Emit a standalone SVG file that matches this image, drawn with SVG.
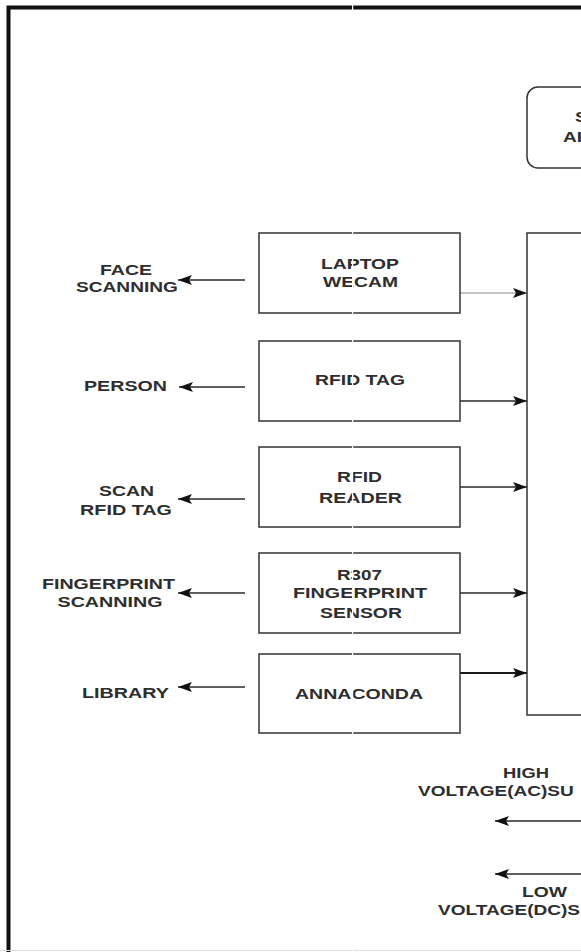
<svg xmlns="http://www.w3.org/2000/svg" width="581" height="952" viewBox="0 0 581 952">
<defs>
<style>
.t{font-family:"Liberation Sans",Arial,sans-serif;font-size:15px;font-weight:bold;fill:#2e2e2e;text-anchor:middle}
.ts{font-family:"Liberation Sans",Arial,sans-serif;font-size:15px;font-weight:bold;fill:#2e2e2e;text-anchor:start}
.box{fill:#fff;stroke:#333;stroke-width:1.5}
.c{stroke:#2a2a2a;stroke-width:1.3;fill:none}
</style>
<marker id="ah" markerUnits="userSpaceOnUse" markerWidth="14" markerHeight="10" refX="14" refY="5" orient="auto">
<path d="M0,0 L14,5 L0,10 L3,5 z" fill="#111"/>
</marker>
</defs>
<rect x="0" y="0" width="581" height="952" fill="#fff"/>
<rect x="8.5" y="7.5" width="640" height="1000" fill="none" stroke="#111" stroke-width="4"/>
<line x1="0" y1="950.5" x2="581" y2="950.5" stroke="#ddd" stroke-width="1"/>

<g id="connectors">
<line class="c" x1="245" y1="280" x2="178" y2="280" marker-end="url(#ah)"/>
<line class="c" x1="245" y1="387" x2="179" y2="387" marker-end="url(#ah)"/>
<line class="c" x1="245" y1="499" x2="178" y2="499" marker-end="url(#ah)"/>
<line class="c" x1="245" y1="593" x2="178" y2="593" marker-end="url(#ah)"/>
<line class="c" x1="245" y1="687" x2="178" y2="687" marker-end="url(#ah)"/>
<line x1="460" y1="293" x2="527" y2="293" stroke="#888" stroke-width="1" marker-end="url(#ah)"/>
<line class="c" x1="460" y1="401" x2="527" y2="401" marker-end="url(#ah)"/>
<line class="c" x1="460" y1="487" x2="527" y2="487" marker-end="url(#ah)"/>
<line class="c" x1="460" y1="593" x2="527" y2="593" marker-end="url(#ah)"/>
<line x1="460" y1="673" x2="527" y2="673" stroke="#1a1a1a" stroke-width="2" marker-end="url(#ah)"/>
<line class="c" x1="600" y1="821" x2="495" y2="821" marker-end="url(#ah)"/>
<line class="c" x1="600" y1="874" x2="495" y2="874" marker-end="url(#ah)"/>
</g>

<g id="label-face">
<text class="t" x="126" y="275" textLength="52" lengthAdjust="spacingAndGlyphs">FACE</text>
<text class="t" x="127" y="292" textLength="102" lengthAdjust="spacingAndGlyphs">SCANNING</text>
</g>
<g id="label-person"><text class="t" x="125.5" y="391" textLength="83" lengthAdjust="spacingAndGlyphs">PERSON</text></g>
<g id="label-scan">
<text class="t" x="126.5" y="496" textLength="55" lengthAdjust="spacingAndGlyphs">SCAN</text>
<text class="t" x="126" y="515" textLength="92" lengthAdjust="spacingAndGlyphs">RFID TAG</text>
</g>
<g id="label-fingerprint">
<text class="t" x="108.5" y="589" textLength="133" lengthAdjust="spacingAndGlyphs">FINGERPRINT</text>
<text class="t" x="110" y="607" textLength="105" lengthAdjust="spacingAndGlyphs">SCANNING</text>
</g>
<g id="label-library"><text class="t" x="125.5" y="698" textLength="87" lengthAdjust="spacingAndGlyphs">LIBRARY</text></g>

<g id="node-laptop">
<rect class="box" x="259" y="233" width="201" height="80"/>
<text class="t" x="360" y="269" textLength="78" lengthAdjust="spacingAndGlyphs">LAPTOP</text>
<text class="t" x="360.5" y="287" textLength="75" lengthAdjust="spacingAndGlyphs">WECAM</text>
</g>
<g id="node-rfidtag">
<rect class="box" x="259" y="341" width="201" height="80"/>
<text class="t" x="360" y="385" textLength="90" lengthAdjust="spacingAndGlyphs">RFID TAG</text>
</g>
<g id="node-rfidreader">
<rect class="box" x="259" y="447" width="201" height="80"/>
<text class="t" x="359.5" y="482" textLength="45" lengthAdjust="spacingAndGlyphs">RFID</text>
<text class="t" x="360.5" y="503" textLength="83" lengthAdjust="spacingAndGlyphs">READER</text>
</g>
<g id="node-r307">
<rect class="box" x="259" y="553" width="201" height="80"/>
<text class="t" x="359.5" y="580" textLength="45" lengthAdjust="spacingAndGlyphs">R307</text>
<text class="t" x="360" y="598" textLength="134" lengthAdjust="spacingAndGlyphs">FINGERPRINT</text>
<text class="t" x="361" y="618" textLength="82" lengthAdjust="spacingAndGlyphs">SENSOR</text>
</g>
<g id="node-annaconda">
<rect class="box" x="259" y="654" width="201" height="79"/>
<text class="t" x="359" y="699" textLength="128" lengthAdjust="spacingAndGlyphs">ANNACONDA</text>
</g>

<g id="node-top">
<rect class="box" x="527" y="87" width="120" height="81" rx="11"/>
<text class="ts" transform="translate(575,122) scale(1.27,1)">S</text>
<text class="ts" transform="translate(563,142) scale(1.27,1)">AI</text>
</g>
<g id="node-main">
<rect class="box" x="527" y="233" width="120" height="482"/>
</g>

<g id="label-high">
<text class="t" x="526" y="778" textLength="46" lengthAdjust="spacingAndGlyphs">HIGH</text>
<text class="ts" transform="translate(418,796) scale(1.27,1)">VOLTAGE(AC)SU</text>
</g>
<g id="label-low">
<text class="t" x="544.5" y="897" textLength="45" lengthAdjust="spacingAndGlyphs">LOW</text>
<text class="ts" transform="translate(438,915) scale(1.27,1)">VOLTAGE(DC)S</text>
</g>

<rect x="352" y="0" width="1.2" height="952" fill="#fff"/>
</svg>
